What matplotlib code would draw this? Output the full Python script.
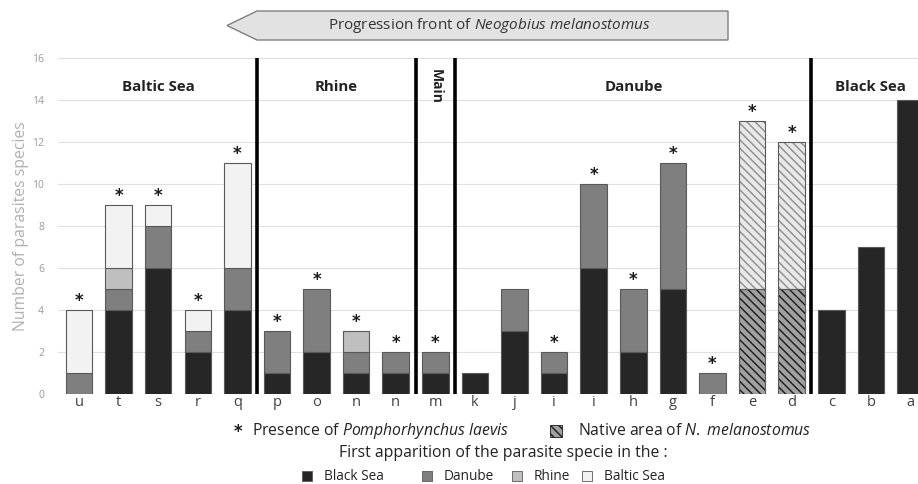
import matplotlib
matplotlib.use("Agg")
import matplotlib.pyplot as plt
from matplotlib.patches import Polygon, Rectangle
import numpy as np

# ---------------- data ----------------
sites = ['u', 't', 's', 'r', 'q', 'p', 'o', 'n', 'n', 'm', 'k', 'j', 'i', 'i',
         'h', 'g', 'f', 'e', 'd', 'c', 'b', 'a']
black_sea = [0, 4, 6, 2, 4, 1, 2, 1, 1, 1, 1, 3, 1, 6, 2, 5, 0, 5, 5, 4, 7, 14]
danube    = [1, 1, 2, 1, 2, 2, 3, 1, 1, 1, 0, 2, 1, 4, 3, 6, 1, 0, 0, 0, 0, 0]
rhine     = [0, 1, 0, 0, 0, 0, 0, 1, 0, 0, 0, 0, 0, 0, 0, 0, 0, 8, 7, 0, 0, 0]
baltic    = [3, 3, 1, 1, 5, 0, 0, 0, 0, 0, 0, 0, 0, 0, 0, 0, 0, 0, 0, 0, 0, 0]
laevis    = [1, 1, 1, 1, 1, 1, 1, 1, 1, 1, 0, 0, 1, 1, 1, 1, 1, 1, 1, 0, 0, 0]
native    = [0, 0, 0, 0, 0, 0, 0, 0, 0, 0, 0, 0, 0, 0, 0, 0, 0, 1, 1, 0, 0, 0]
regions = ['Baltic Sea', 'Rhine', 'Main', 'Danube', 'Black Sea']
region_sizes = [5, 4, 1, 9, 3]
series_names = ['Black Sea', 'Danube', 'Rhine', 'Baltic Sea']
yticks = [0, 2, 4, 6, 8, 10, 12, 14, 16]

# ---------------- style ----------------
plt.rcParams['font.family'] = ['Open Sans', 'DejaVu Sans']
plt.rcParams['mathtext.fontset'] = 'custom'
plt.rcParams['mathtext.rm'] = 'Open Sans'
plt.rcParams['mathtext.it'] = 'Open Sans:italic'
plt.rcParams['hatch.linewidth'] = 1.0

colors = ['#262626', '#7f7f7f', '#bfbfbf', '#f2f2f2']
native_face = ['#a0a0a0', '#a0a0a0', '#e8e8e8', '#e8e8e8']
native_hatch = ['#1a1a1a', '#1a1a1a', '#8c8c8c', '#8c8c8c']

W, H = 918, 484
fig = plt.figure(figsize=(W / 100, H / 100), dpi=100)
ax = fig.add_axes([58 / W, (H - 394) / H, 1 - 58 / W, (394 - 58) / H])

x = np.arange(len(sites))
width = 0.67
series = [black_sea, danube, rhine, baltic]
bottom = np.zeros(len(sites))
for k, vals in enumerate(series):
    vals = np.array(vals, dtype=float)
    for i in range(len(sites)):
        if vals[i] == 0:
            continue
        if native[i]:
            ax.bar(x[i], vals[i], width, bottom=bottom[i], color=native_face[k],
                   edgecolor=native_hatch[k], hatch='\\\\\\\\', linewidth=0, zorder=3)
            ax.bar(x[i], vals[i], width, bottom=bottom[i], fill=False,
                   edgecolor='#595959', linewidth=0.8, zorder=4)
        else:
            ax.bar(x[i], vals[i], width, bottom=bottom[i], color=colors[k],
                   edgecolor='#595959', linewidth=0.8, zorder=3)
    bottom += vals

totals = bottom
for i in range(len(sites)):
    if laevis[i]:
        ax.annotate('*', (x[i], totals[i]), xytext=(0, 0), textcoords='offset points',
                    ha='center', va='bottom', fontsize=12, fontweight='bold',
                    color='#1a1a1a', family='DejaVu Sans', zorder=5)

# region separators and labels
edges = np.cumsum(region_sizes)
for e in edges[:-1]:
    ax.plot([e - 0.5, e - 0.5], [0, 16], color='black', lw=2.6, zorder=4,
            solid_capstyle='butt')
starts = np.concatenate([[0], edges[:-1]])
for name, s, e in zip(regions, starts, edges):
    c = (s + e - 1) / 2
    if name == 'Main':
        ax.text(c, 14.65, name, rotation=-90, ha='center', va='center',
                fontsize=10, fontweight='bold', color='#222222')
    else:
        ax.text(c, 14.6, name, ha='center', va='center', fontsize=10.8,
                fontweight='bold', color='#222222')

ax.set_xlim(-0.53, 21.19)
ax.set_ylim(0, 16)
ax.set_yticks(yticks)
ax.set_yticklabels([str(v) for v in yticks], color='#9a9a9a', fontsize=7.5)
ax.set_xticks(x)
ax.set_xticklabels(sites, fontsize=10.5, color='#404040')
ax.tick_params(axis='both', length=0)
ax.tick_params(axis='x', pad=1)
ax.tick_params(axis='y', pad=10)
ax.grid(axis='y', color='#e0e0e0', lw=0.8, zorder=0)
ax.set_axisbelow(True)
for sp in ax.spines.values():
    sp.set_visible(False)
ax.set_ylabel('Number of parasites species', fontsize=11.3, color='#b0b0b0', labelpad=2)


def fx(px):
    return px / W


def fy(py):
    return (H - py) / H


# progression arrow
arrow = Polygon([(fx(227), fy(25.5)), (fx(257), fy(11)), (fx(728), fy(11)),
                 (fx(728), fy(40)), (fx(257), fy(40))], closed=True,
                transform=fig.transFigure, facecolor='#e2e2e2', edgecolor='#7f7f7f', lw=1)
fig.patches.append(arrow)
fig.text(fx(489), fy(25.5), r'Progression front of $\mathit{Neogobius}$ $\mathit{melanostomus}$',
         ha='center', va='center', fontsize=11, color='#333333')

# legend, row 1
fig.text(fx(238), fy(432), '*', ha='center', va='center', fontsize=12, fontweight='bold',
         color='#1a1a1a', family='DejaVu Sans')
fig.text(fx(252), fy(431), r'Presence of $\mathit{Pomphorhynchus}$ $\mathit{laevis}$',
         ha='left', va='center', fontsize=11.3, color='#222222')
sq = Rectangle((fx(550), fy(437)), fx(12), 12 / H, transform=fig.transFigure,
               facecolor='#a0a0a0', edgecolor='#1a1a1a', hatch='\\\\\\\\', lw=0.6)
fig.patches.append(sq)
fig.text(fx(578), fy(431), r'Native area of $\mathit{N.}$ $\mathit{melanostomus}$',
         ha='left', va='center', fontsize=11.3, color='#222222')

# legend, row 2
fig.text(fx(503), fy(453), 'First apparition of the parasite specie in the :',
         ha='center', va='center', fontsize=11.3, color='#222222')

# legend, row 3
sq_x = [302, 422, 512, 582]
for name, c, px in zip(series_names, colors, sq_x):
    r = Rectangle((fx(px), fy(481)), fx(10), 10 / H, transform=fig.transFigure,
                  facecolor=c, edgecolor='#595959', lw=0.6)
    fig.patches.append(r)
    fig.text(fx(px + 22), fy(476), name, ha='left', va='center', fontsize=9.8,
             color='#222222')

fig.savefig('out.png', dpi=100)
